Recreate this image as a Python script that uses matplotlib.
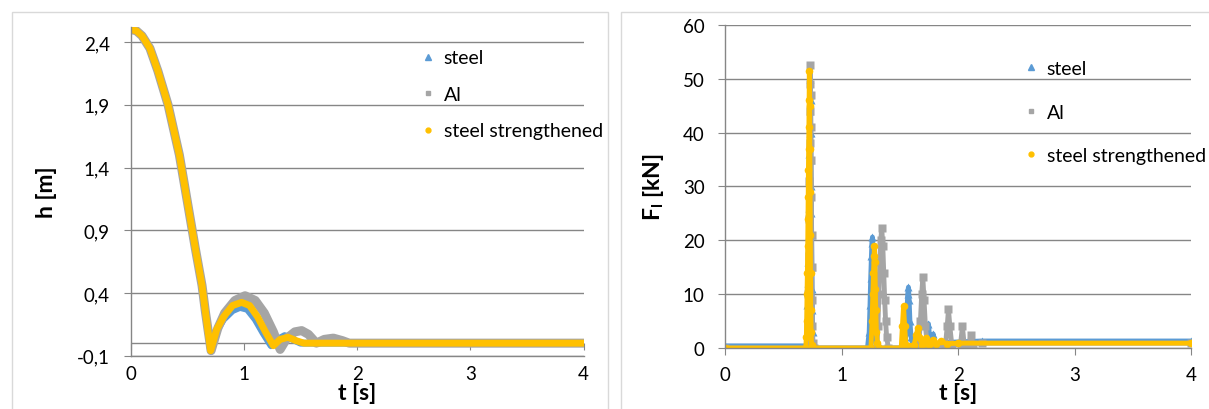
import matplotlib
matplotlib.use('Agg')
import matplotlib.pyplot as plt
from matplotlib.lines import Line2D
from matplotlib.patches import Rectangle
from matplotlib.ticker import FuncFormatter

plt.rcParams['font.family'] = ['Lato', 'DejaVu Sans']
plt.rcParams['mathtext.fontset'] = 'custom'
plt.rcParams['mathtext.rm'] = 'Lato'
plt.rcParams['mathtext.bf'] = 'Lato:bold'

# colours (Excel 2013 palette)
c_steel = '#5B9BD5'
c_al = '#A5A5A5'
c_str = '#FFC000'
c_grid = '#868686'

labels = ['steel', 'Al', 'steel strengthened']

# ---- left chart: height h [m] vs time
t_steel_h = [0, 0.05, 0.1, 0.17, 0.24, 0.33, 0.43, 0.5, 0.57, 0.63, 0.66, 0.706, 0.76, 0.82, 0.9, 0.965,
             1.03, 1.1, 1.17, 1.24, 1.30, 1.36, 1.43, 1.50, 1.6, 4.0]
h_steel = [2.5, 2.49, 2.45, 2.35, 2.17, 1.90, 1.50, 1.13, 0.76, 0.46, 0.25, -0.06, 0.10, 0.19, 0.26, 0.285,
           0.27, 0.19, 0.08, -0.02, 0.03, 0.06, 0.03, 0.0, 0.0, 0.0]

t_al_h = [0, 0.05, 0.1, 0.17, 0.24, 0.33, 0.43, 0.5, 0.57, 0.63, 0.66, 0.71, 0.77, 0.83, 0.92, 1.01,
          1.1, 1.18, 1.26, 1.32, 1.38, 1.45, 1.51, 1.57, 1.64, 1.71, 1.79, 1.87, 1.93, 4.0]
h_al = [2.5, 2.49, 2.45, 2.35, 2.17, 1.90, 1.50, 1.13, 0.76, 0.46, 0.25, -0.06, 0.12, 0.24, 0.34, 0.378,
        0.34, 0.24, 0.09, -0.05, 0.04, 0.09, 0.10, 0.07, 0.0, 0.03, 0.04, 0.02, 0.0, 0.0]

t_str_h = [0, 0.05, 0.1, 0.17, 0.24, 0.33, 0.43, 0.5, 0.57, 0.63, 0.66, 0.706, 0.76, 0.82, 0.9, 0.98,
           1.05, 1.12, 1.19, 1.26, 1.32, 1.39, 1.46, 1.53, 4.0]
h_str = [2.5, 2.49, 2.45, 2.35, 2.17, 1.90, 1.50, 1.13, 0.76, 0.46, 0.25, -0.06, 0.11, 0.21, 0.30, 0.325,
         0.30, 0.21, 0.09, -0.02, 0.03, 0.047, 0.02, 0.0, 0.0]

# ---- right chart: force F_l [kN] vs time
t_steel_f = [0, 0.69, 0.70, 0.702, 0.705, 0.708, 0.711, 0.714, 0.717, 0.719, 0.721, 0.723, 0.725, 0.727,
             0.729, 0.731, 0.733, 0.735, 0.737, 0.739, 0.741, 0.743, 0.745, 0.747, 0.749, 0.752,
             1.22, 1.235, 1.242, 1.248, 1.254, 1.258, 1.263, 1.268, 1.272, 1.277, 1.282, 1.29, 1.30,
             1.54, 1.552, 1.56, 1.566, 1.572, 1.578, 1.585, 1.595, 1.61, 1.65, 1.72, 1.744, 1.76,
             1.785, 1.80, 1.85, 2.2, 4.0]
f_steel = [0.4, 0.4, 0.0, 3, 8, 12, 16, 21, 26, 31, 36, 40, 44, 47,
           50, 46, 40, 35, 30, 25, 21, 15, 11, 7, 3, 0,
           0, 3, 8, 13, 17, 19.5, 20.6, 18, 14, 9, 4, 1, 0,
           0, 3, 7, 10, 11.3, 9, 5, 2, 0.5, 0.3, 0.2, 4.5, 0.5,
           2.6, 0.5, 1.0, 1.3, 1.3]

t_al_f = [0, 0.70, 0.708, 0.712, 0.715, 0.718, 0.721, 0.724, 0.726, 0.728, 0.730, 0.732, 0.734,
          0.736, 0.738, 0.740, 0.742, 0.744, 0.747, 0.75, 0.76,
          1.30, 1.31, 1.318, 1.326, 1.334, 1.343, 1.352, 1.36, 1.368, 1.376, 1.385, 1.40,
          1.66, 1.675, 1.686, 1.696, 1.706, 1.718, 1.735,
          1.89, 1.905, 1.916, 1.928, 1.945, 2.02, 2.036, 2.05, 2.095, 2.108, 2.125, 2.2, 4.0]
f_al = [0, 0, 4, 10, 17, 24, 31, 38, 44, 49, 52.5, 47, 41,
        35, 28, 21, 15, 9, 4, 1, 0,
        0, 4, 10, 16, 20, 22.2, 19, 14, 9, 5, 2, 0,
        0, 5, 10, 13.1, 9, 4, 0.5,
        0.5, 4, 7.2, 4, 0.5, 0.8, 4.0, 0.8, 0.8, 2.4, 0.8, 0.9, 0.9]

t_str_f = [0, 0.69, 0.695, 0.698, 0.701, 0.704, 0.707, 0.709, 0.711, 0.713, 0.715, 0.717,
           0.719, 0.721, 0.723, 0.725, 0.727, 0.729, 0.731, 0.733, 0.736, 0.74, 0.75,
           1.25, 1.26, 1.266, 1.272, 1.277, 1.28, 1.284, 1.288, 1.292, 1.297, 1.305, 1.32,
           1.51, 1.52, 1.53, 1.54, 1.55, 1.62, 1.64, 1.653, 1.665, 1.69, 1.72, 1.75, 1.78,
           1.81, 1.85, 1.9, 2.0, 4.0]
f_str = [0, 0, 2, 5, 10, 14, 19, 24, 28, 33, 37, 41,
         46, 51.5, 45, 37, 29, 21, 14, 7, 3, 0.5, 0,
         0, 5, 10, 14, 17, 19, 16, 11, 7, 3, 1, 0,
         0, 4, 7.75, 4, 0.5, 0.5, 2.5, 3.7, 2, 0.5, 1.8, 0.6, 1.5,
         0.7, 1.3, 0.8, 0.9, 0.9]

fig = plt.figure(figsize=(12.09, 4.10), dpi=100)

# chart borders
fig.patches.append(Rectangle((0.0097, -0.05), 0.493, 1.019, transform=fig.transFigure,
                             fill=False, edgecolor='#D9D9D9', lw=1))
fig.patches.append(Rectangle((0.514, -0.05), 0.49, 1.019, transform=fig.transFigure,
                             fill=False, edgecolor='#D9D9D9', lw=1))

comma = FuncFormatter(lambda v, p: ('%.1f' % v).replace('.', ','))


def style(ax):
    for s in ['top', 'right']:
        ax.spines[s].set_visible(False)
    for s in ['left', 'bottom']:
        ax.spines[s].set_color(c_grid)
        ax.spines[s].set_linewidth(1)
    ax.grid(axis='y', color=c_grid, lw=1)
    ax.set_axisbelow(True)
    ax.tick_params(axis='y', colors=c_grid, length=5, labelcolor='black', labelsize=13.5, pad=10)
    ax.tick_params(axis='x', length=0, labelcolor='black', labelsize=13.5, pad=7)
    ax.set_xlim(0, 4)
    ax.set_xticks([0, 1, 2, 3, 4])


# left chart
ax1 = fig.add_axes([0.1081, 0.130, 0.3746, 0.8017])
kw = dict(lw=5, solid_capstyle='round', solid_joinstyle='round')
ax1.plot(t_steel_h, h_steel, color=c_steel, **kw)
ax1.plot(t_al_h, h_al, color=c_al, lw=6.5, solid_capstyle='round', solid_joinstyle='round')
ax1.plot(t_str_h, h_str, color=c_str, **kw)
ymin1, ymax1 = -0.1, 2.52
ax1.set_ylim(ymin1, ymax1)
ax1.set_yticks([-0.1, 0.4, 0.9, 1.4, 1.9, 2.4])
ax1.yaxis.set_major_formatter(comma)
style(ax1)
ax1.axhline(0, color=c_grid, lw=1, zorder=0.5)
sec = ax1.secondary_xaxis((0 - ymin1) / (ymax1 - ymin1))
sec.set_xticks([0, 1, 2, 3, 4])
sec.tick_params(axis='x', direction='out', length=5, colors=c_grid, labelbottom=False)
for s in sec.spines.values():
    s.set_visible(False)
ax1.set_ylabel('h [m]', fontsize=16.5, fontweight='bold', labelpad=14)
ax1.set_xlabel('t [s]', fontsize=16.5, fontweight='bold', labelpad=0)

# right chart
ax2 = fig.add_axes([0.600, 0.1488, 0.3852, 0.7878])
ax2.plot(t_steel_f, f_steel, color=c_steel, lw=3.5, marker='^', ms=6, mec='none')
ax2.plot(t_al_f, f_al, color=c_al, lw=3.5, marker='s', ms=5.5, mec='none')
ax2.plot(t_str_f, f_str, color=c_str, lw=3.5, marker='o', ms=5.5, mec='none')
ax2.set_ylim(0, 60)
ax2.set_yticks([0, 10, 20, 30, 40, 50, 60])
style(ax2)
ax2.tick_params(axis='x', direction='out', length=5, colors=c_grid, labelcolor='black', pad=8)
ax2.set_ylabel(r'$\mathbf{F}_\mathbf{l}$ [kN]', fontsize=16.5, fontweight='bold', labelpad=12)
ax2.set_xlabel('t [s]', fontsize=16.5, fontweight='bold', labelpad=-1)

# legends (marker only)
handles = [Line2D([], [], ls='none', marker='^', ms=4, color=c_steel),
           Line2D([], [], ls='none', marker='s', ms=3.5, color=c_al),
           Line2D([], [], ls='none', marker='o', ms=3.5, color=c_str)]
ax1.legend(handles, labels, loc='upper left', bbox_to_anchor=(0.605, 0.985), frameon=False,
           fontsize=14, handlelength=0.6, handletextpad=0.5, labelspacing=1.0)
ax2.legend(handles, labels, loc='upper left', bbox_to_anchor=(0.606, 0.945), frameon=False,
           fontsize=14, handlelength=0.6, handletextpad=0.5, labelspacing=1.35)

fig.savefig('out.png', dpi=100)
